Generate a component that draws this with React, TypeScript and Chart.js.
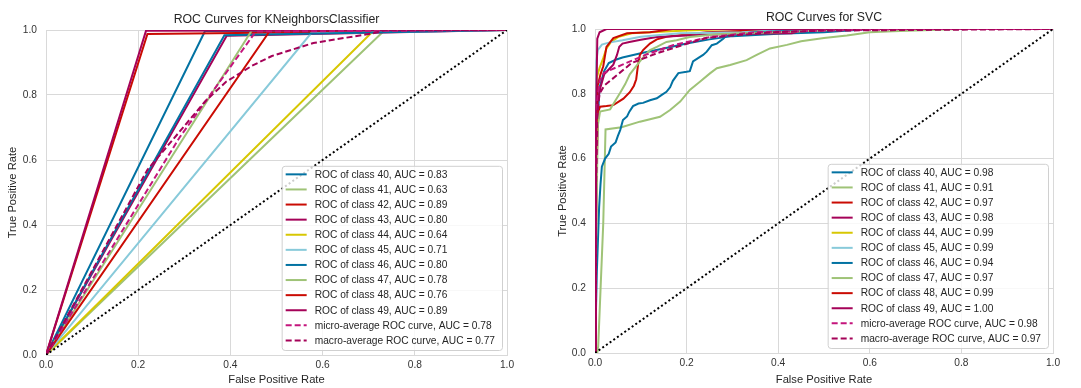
import React, { useEffect, useRef } from 'react';
import { Chart, registerables } from 'chart.js';

Chart.register(...registerables);

const FONT = '"Liberation Sans", Arial, Helvetica, sans-serif';
const GRID = '#d9d9d9';
const TEXT = '#262626';

const BLUE = '#0272a2';
const GREEN = '#9fc377';
const RED = '#ca0b03';
const MAGENTA = '#a50258';
const YELLOW = '#d7c703';
const LIGHTBLUE = '#88cada';
const MICRO_COLOR = '#c4157c';
const MACRO_COLOR = '#a50258';

const CLASS_NAMES = ['40', '41', '42', '43', '44', '45', '46', '47', '48', '49'];
const CLASS_COLORS = [BLUE, GREEN, RED, MAGENTA, YELLOW, LIGHTBLUE, BLUE, GREEN, RED, MAGENTA];
const AXIS_TICKS = [0, 0.2, 0.4, 0.6, 0.8, 1.0];
const DIAG_X = [0, 1];
const DIAG_Y = [0, 1];

// ---------- KNeighborsClassifier ----------
const KNN_AUC = [0.83, 0.63, 0.89, 0.8, 0.64, 0.71, 0.8, 0.78, 0.76, 0.89];
const KNN_MICRO_AUC = 0.78;
const KNN_MACRO_AUC = 0.77;

const KNN_FPR_40 = [0, 0.345, 1];
const KNN_TPR_40 = [0, 0.997, 1];
const KNN_FPR_41 = [0, 0.735, 1];
const KNN_TPR_41 = [0, 1, 1];
const KNN_FPR_42 = [0, 0.22, 1];
const KNN_TPR_42 = [0, 0.988, 1];
const KNN_FPR_43 = [0, 0.392, 1];
const KNN_TPR_43 = [0, 0.982, 1];
const KNN_FPR_44 = [0, 0.712, 1];
const KNN_TPR_44 = [0, 1, 1];
const KNN_FPR_45 = [0, 0.575, 1];
const KNN_TPR_45 = [0, 0.99, 1];
const KNN_FPR_46 = [0, 0.387, 1];
const KNN_TPR_46 = [0, 0.984, 1];
const KNN_FPR_47 = [0, 0.447, 1];
const KNN_TPR_47 = [0, 1, 1];
const KNN_FPR_48 = [0, 0.487, 1];
const KNN_TPR_48 = [0, 1, 1];
const KNN_FPR_49 = [0, 0.217, 1];
const KNN_TPR_49 = [0, 0.998, 1];
const KNN_FPR_MICRO = [0, 0.29, 0.455, 1];
const KNN_TPR_MICRO = [0, 0.67, 0.995, 1];
const KNN_FPR_MACRO = [0, 0.22, 0.345, 0.39, 0.447, 0.49, 0.58, 0.71, 0.735, 1];
const KNN_TPR_MACRO = [0, 0.57, 0.78, 0.84, 0.89, 0.92, 0.96, 0.99, 1, 1];

const KNN_FPRS = [KNN_FPR_40, KNN_FPR_41, KNN_FPR_42, KNN_FPR_43, KNN_FPR_44, KNN_FPR_45, KNN_FPR_46, KNN_FPR_47, KNN_FPR_48, KNN_FPR_49];
const KNN_TPRS = [KNN_TPR_40, KNN_TPR_41, KNN_TPR_42, KNN_TPR_43, KNN_TPR_44, KNN_TPR_45, KNN_TPR_46, KNN_TPR_47, KNN_TPR_48, KNN_TPR_49];

// ---------- SVC ----------
const SVC_AUC = [0.98, 0.91, 0.97, 0.98, 0.99, 0.99, 0.94, 0.97, 0.99, 1.0];
const SVC_MICRO_AUC = 0.98;
const SVC_MACRO_AUC = 0.97;

const SVC_FPR_40 = [0, 0.002, 0.005, 0.01, 0.02, 0.03, 0.045, 0.06, 0.1, 0.15, 0.2, 0.25, 0.3, 0.4, 0.5, 0.6, 1];
const SVC_TPR_40 = [0, 0.45, 0.7, 0.82, 0.87, 0.895, 0.905, 0.912, 0.925, 0.94, 0.955, 0.968, 0.978, 0.985, 0.99, 1, 1];
const SVC_FPR_41 = [0, 0.005, 0.007, 0.018, 0.023, 0.058, 0.098, 0.142, 0.164, 0.186, 0.207, 0.229, 0.251, 0.266, 0.295, 0.331, 0.353, 0.382, 0.419, 0.45, 0.5, 0.55, 0.6, 0.65, 0.8, 1];
const SVC_TPR_41 = [0, 0, 0.02, 0.4, 0.69, 0.697, 0.714, 0.729, 0.75, 0.776, 0.812, 0.837, 0.863, 0.879, 0.889, 0.904, 0.92, 0.94, 0.951, 0.962, 0.972, 0.98, 0.99, 0.993, 1, 1];
const SVC_FPR_42 = [0, 0.003, 0.006, 0.011, 0.025, 0.04, 0.062, 0.076, 0.085, 0.09, 0.094, 0.098, 0.105, 0.12, 0.135, 0.156, 0.185, 0.244, 0.3, 0.4, 0.5, 1];
const SVC_TPR_42 = [0, 0.5, 0.74, 0.76, 0.762, 0.765, 0.785, 0.805, 0.825, 0.845, 0.89, 0.92, 0.935, 0.955, 0.968, 0.976, 0.981, 0.99, 0.993, 0.997, 1, 1];
const SVC_FPR_43 = [0, 0.003, 0.006, 0.012, 0.02, 0.03, 0.04, 0.048, 0.053, 0.06, 0.075, 0.1, 0.135, 0.2, 0.3, 0.43, 0.45, 0.6, 1];
const SVC_TPR_43 = [0, 0.5, 0.78, 0.82, 0.86, 0.875, 0.89, 0.92, 0.945, 0.955, 0.96, 0.967, 0.975, 0.98, 0.985, 0.987, 0.995, 1, 1];
const SVC_FPR_44 = [0, 0.002, 0.004, 0.01, 0.018, 0.025, 0.035, 0.05, 0.08, 0.12, 0.2, 0.3, 1];
const SVC_TPR_44 = [0, 0.6, 0.85, 0.88, 0.91, 0.94, 0.96, 0.975, 0.987, 0.99, 0.995, 1, 1];
const SVC_FPR_45 = [0, 0.001, 0.003, 0.006, 0.015, 0.03, 0.06, 0.1, 0.185, 0.32, 0.45, 1];
const SVC_TPR_45 = [0, 0.6, 0.9, 0.935, 0.952, 0.958, 0.965, 0.976, 0.987, 0.99, 1, 1];
const SVC_FPR_46 = [0, 0.004, 0.009, 0.012, 0.015, 0.022, 0.03, 0.035, 0.045, 0.05, 0.055, 0.061, 0.07, 0.075, 0.083, 0.095, 0.105, 0.12, 0.135, 0.145, 0.156, 0.164, 0.17, 0.182, 0.2, 0.207, 0.214, 0.225, 0.236, 0.244, 0.255, 0.266, 0.28, 0.288, 0.32, 0.35, 0.45, 0.55, 1];
const SVC_TPR_46 = [0, 0.25, 0.45, 0.52, 0.575, 0.6, 0.615, 0.637, 0.65, 0.67, 0.688, 0.719, 0.73, 0.745, 0.762, 0.77, 0.772, 0.78, 0.786, 0.796, 0.806, 0.82, 0.84, 0.864, 0.868, 0.87, 0.9, 0.91, 0.92, 0.93, 0.95, 0.955, 0.97, 0.981, 0.985, 0.99, 0.995, 1, 1];
const SVC_FPR_47 = [0, 0.003, 0.006, 0.011, 0.033, 0.045, 0.055, 0.066, 0.076, 0.087, 0.098, 0.11, 0.12, 0.135, 0.156, 0.178, 0.207, 0.26, 0.317, 0.4, 0.5, 0.55, 1];
const SVC_TPR_47 = [0, 0.4, 0.7, 0.745, 0.752, 0.78, 0.803, 0.83, 0.86, 0.88, 0.9, 0.92, 0.935, 0.945, 0.96, 0.965, 0.975, 0.983, 0.987, 0.99, 0.996, 1, 1];
const SVC_FPR_48 = [0, 0.002, 0.005, 0.012, 0.018, 0.025, 0.04, 0.07, 0.12, 0.17, 1];
const SVC_TPR_48 = [0, 0.6, 0.82, 0.86, 0.885, 0.945, 0.972, 0.987, 0.99, 1, 1];
const SVC_FPR_49 = [0, 0.002, 0.005, 0.01, 0.025, 1];
const SVC_TPR_49 = [0, 0.7, 0.97, 0.99, 1, 1];
const SVC_FPR_MICRO = [0, 0.002, 0.005, 0.01, 0.02, 0.06, 0.11, 0.17, 0.25, 0.35, 0.5, 0.7, 1];
const SVC_TPR_MICRO = [0, 0.5, 0.78, 0.84, 0.865, 0.89, 0.92, 0.95, 0.975, 0.99, 0.995, 1, 1];
const SVC_FPR_MACRO = [0, 0.002, 0.005, 0.01, 0.02, 0.05, 0.08, 0.135, 0.19, 0.245, 0.3, 0.39, 0.5, 1];
const SVC_TPR_MACRO = [0, 0.5, 0.74, 0.8, 0.825, 0.86, 0.895, 0.925, 0.95, 0.973, 0.98, 0.99, 0.995, 1];

const SVC_FPRS = [SVC_FPR_40, SVC_FPR_41, SVC_FPR_42, SVC_FPR_43, SVC_FPR_44, SVC_FPR_45, SVC_FPR_46, SVC_FPR_47, SVC_FPR_48, SVC_FPR_49];
const SVC_TPRS = [SVC_TPR_40, SVC_TPR_41, SVC_TPR_42, SVC_TPR_43, SVC_TPR_44, SVC_TPR_45, SVC_TPR_46, SVC_TPR_47, SVC_TPR_48, SVC_TPR_49];

type Curve = { label: string; fpr: number[]; tpr: number[]; color: string; dash: number[] };

function buildCurves(fprs: number[][], tprs: number[][], aucs: number[], micro: [number[], number[], number], macro: [number[], number[], number]): Curve[] {
  const curves: Curve[] = CLASS_NAMES.map((c, i) => ({
    label: `ROC of class ${c}, AUC = ${aucs[i].toFixed(2)}`,
    fpr: fprs[i],
    tpr: tprs[i],
    color: CLASS_COLORS[i],
    dash: [],
  }));
  curves.push({ label: `micro-average ROC curve, AUC = ${micro[2].toFixed(2)}`, fpr: micro[0], tpr: micro[1], color: MICRO_COLOR, dash: [6, 3] });
  curves.push({ label: `macro-average ROC curve, AUC = ${macro[2].toFixed(2)}`, fpr: macro[0], tpr: macro[1], color: MACRO_COLOR, dash: [6, 3] });
  return curves;
}

type Panel = {
  title: string;
  curves: Curve[];
  width: number;
  areaLeft: number;
  areaRight: number;
  areaTop: number;
  areaBottom: number;
  titlePadTop: number;
  yTitlePad: number;
};

const HEIGHT = 388;

function legendPlugin(curves: Curve[]) {
  return {
    id: 'boxLegend',
    afterDraw(chart: any) {
      const ctx: CanvasRenderingContext2D = chart.ctx;
      const area = chart.chartArea;
      ctx.save();
      ctx.font = `10.2px ${FONT}`;
      let maxW = 0;
      curves.forEach((c) => {
        maxW = Math.max(maxW, ctx.measureText(c.label).width);
      });
      const rowH = 15.1;
      const padL = 4;
      const lineLen = 21;
      const gap = 8;
      const padR = 7;
      const w = padL + lineLen + gap + maxW + padR;
      const h = curves.length * rowH + 3;
      const x = area.right - 5 - w;
      const y = area.bottom - 5 - h;
      ctx.beginPath();
      if ((ctx as any).roundRect) (ctx as any).roundRect(x + 0.5, y + 0.5, w, h, 3);
      else ctx.rect(x + 0.5, y + 0.5, w, h);
      ctx.fillStyle = 'rgba(255,255,255,0.8)';
      ctx.fill();
      ctx.strokeStyle = '#d0d0d0';
      ctx.lineWidth = 1;
      ctx.stroke();
      curves.forEach((c, i) => {
        const cy = y + 1 + rowH * i + rowH / 2;
        ctx.beginPath();
        ctx.setLineDash(c.dash);
        ctx.strokeStyle = c.color;
        ctx.lineWidth = 2;
        ctx.moveTo(x + padL, cy);
        ctx.lineTo(x + padL + lineLen, cy);
        ctx.stroke();
        ctx.setLineDash([]);
        ctx.fillStyle = TEXT;
        ctx.textBaseline = 'middle';
        ctx.textAlign = 'left';
        ctx.fillText(c.label, x + padL + lineLen + gap, cy + 0.5);
      });
      ctx.restore();
    },
  };
}

function makeConfig(p: Panel): any {
  const datasets: any[] = p.curves.map((c) => ({
    label: c.label,
    data: c.fpr.map((x, i) => ({ x, y: c.tpr[i] })),
    borderColor: c.color,
    backgroundColor: c.color,
    borderWidth: 2,
    borderDash: c.dash,
    showLine: true,
    pointRadius: 0,
    pointHoverRadius: 0,
    fill: false,
    tension: 0,
  }));
  datasets.push({
    label: 'identity',
    data: DIAG_X.map((x, i) => ({ x, y: DIAG_Y[i] })),
    borderColor: '#000000',
    borderWidth: 2,
    borderDash: [2, 2.5],
    showLine: true,
    pointRadius: 0,
    fill: false,
  });
  // matplotlib draws in order; Chart.js draws dataset 0 on top -> reverse.
  datasets.reverse();

  const tickFont = { family: FONT, size: 10.2 };
  const titleFont = { family: FONT, size: 11.2 };
  const titleSize = 12.3;
  const titleLH = titleSize * 1.2;
  return {
    type: 'scatter',
    data: { datasets },
    options: {
      responsive: false,
      animation: false,
      devicePixelRatio: 1,
      events: [],
      layout: { padding: { left: 0, right: p.width - p.areaRight, top: 0, bottom: 0 } },
      plugins: {
        legend: { display: false },
        tooltip: { enabled: false },
        title: {
          display: true,
          text: p.title,
          color: TEXT,
          fullSize: false,
          font: { family: FONT, size: titleSize, weight: 'normal', lineHeight: 1.2 },
          padding: { top: p.titlePadTop, bottom: p.areaTop - titleLH - p.titlePadTop },
        },
      },
      scales: {
        x: {
          type: 'linear',
          min: 0,
          max: 1,
          afterBuildTicks: (s: any) => {
            s.ticks = AXIS_TICKS.map((v) => ({ value: v }));
          },
          ticks: {
            color: '#333333',
            font: tickFont,
            padding: 4,
            maxRotation: 0,
            autoSkip: false,
            callback: (v: any) => Number(v).toFixed(1),
          },
          grid: { color: GRID, lineWidth: 1, drawTicks: false },
          border: { color: GRID, width: 1 },
          title: { display: true, text: 'False Positive Rate', color: TEXT, font: titleFont, padding: { top: 0, bottom: 1.3 } },
          afterFit: (s: any) => {
            s.height = HEIGHT - p.areaBottom;
          },
        },
        y: {
          type: 'linear',
          min: 0,
          max: 1,
          afterBuildTicks: (s: any) => {
            s.ticks = AXIS_TICKS.map((v) => ({ value: v }));
          },
          ticks: {
            color: '#333333',
            font: tickFont,
            padding: 9,
            autoSkip: false,
            callback: (v: any) => Number(v).toFixed(1),
          },
          grid: { color: GRID, lineWidth: 1, drawTicks: false },
          border: { color: GRID, width: 1 },
          title: { display: true, text: 'True Positive Rate', color: TEXT, font: titleFont, padding: { top: p.yTitlePad, bottom: 0 } },
          afterFit: (s: any) => {
            s.width = p.areaLeft;
          },
        },
      },
    },
    plugins: [legendPlugin(p.curves)],
  };
}

const LEFT_PANEL: Panel = {
  title: 'ROC Curves for KNeighborsClassifier',
  curves: buildCurves(KNN_FPRS, KNN_TPRS, KNN_AUC, [KNN_FPR_MICRO, KNN_TPR_MICRO, KNN_MICRO_AUC], [KNN_FPR_MACRO, KNN_TPR_MACRO, KNN_MACRO_AUC]),
  width: 540,
  areaLeft: 46,
  areaRight: 507,
  areaTop: 30,
  areaBottom: 355,
  titlePadTop: 11.8,
  yTitlePad: 6.5,
};

const RIGHT_PANEL: Panel = {
  title: 'ROC Curves for SVC',
  curves: buildCurves(SVC_FPRS, SVC_TPRS, SVC_AUC, [SVC_FPR_MICRO, SVC_TPR_MICRO, SVC_MICRO_AUC], [SVC_FPR_MACRO, SVC_TPR_MACRO, SVC_MACRO_AUC]),
  width: 541,
  areaLeft: 55,
  areaRight: 513,
  areaTop: 29,
  areaBottom: 353,
  titlePadTop: 10.6,
  yTitlePad: 16.5,
};

function RocChart({ panel, left }: { panel: Panel; left: number }) {
  const ref = useRef<HTMLCanvasElement | null>(null);
  useEffect(() => {
    if (!ref.current) return;
    const chart = new Chart(ref.current, makeConfig(panel));
    return () => chart.destroy();
  }, [panel]);
  return (
    <canvas
      ref={ref}
      width={panel.width}
      height={HEIGHT}
      style={{ position: 'absolute', left, top: 0, width: panel.width, height: HEIGHT }}
    />
  );
}

export default function App() {
  return (
    <div style={{ position: 'fixed', left: 0, top: 0, width: 1081, height: HEIGHT, background: '#ffffff', overflow: 'hidden' }}>
      <RocChart panel={LEFT_PANEL} left={0} />
      <RocChart panel={RIGHT_PANEL} left={540} />
    </div>
  );
}
